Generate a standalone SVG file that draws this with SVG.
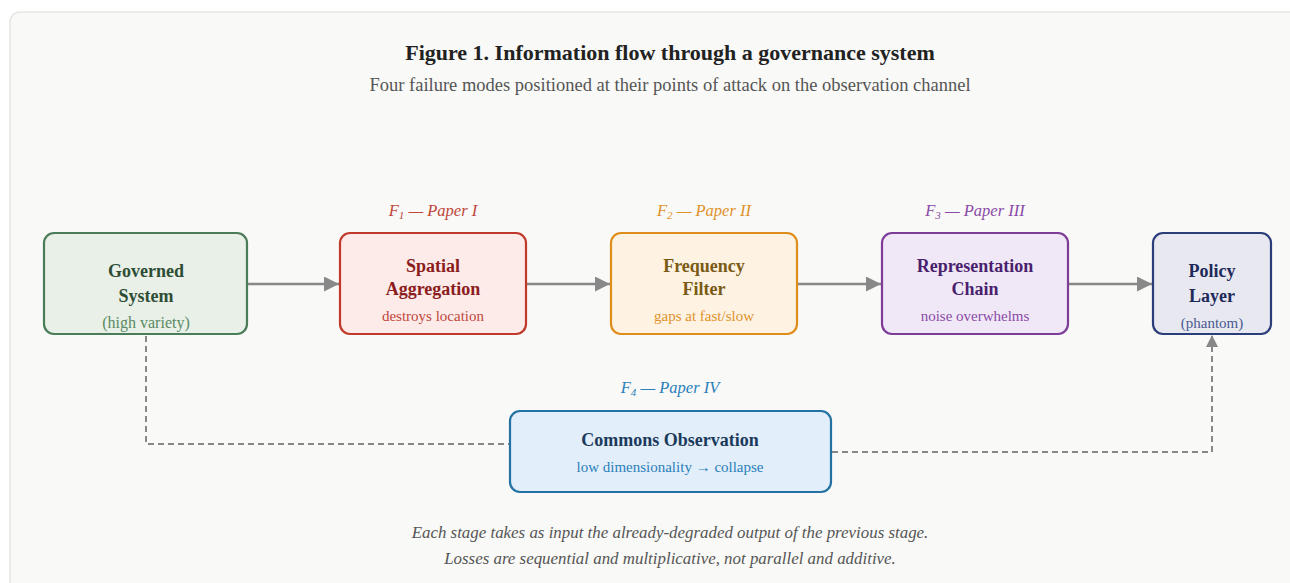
<svg xmlns="http://www.w3.org/2000/svg" width="1290" height="583" viewBox="0 0 1290 583">
<defs>
<style>
.t{font-family:"Liberation Serif","Times New Roman",serif;text-anchor:middle}
.h{font-weight:bold;font-size:18px}
.s{font-size:15px}
.f{font-style:italic;font-size:16.5px}
.ft{font-style:italic;font-size:16.9px}
.box{stroke-width:2.2}
.flow{fill:none;stroke:#888;stroke-width:2.5}
.dash{fill:none;stroke:#888;stroke-width:2;stroke-dasharray:6,4}
</style>
<marker id="ah" viewBox="0 0 10 10" refX="10" refY="5" markerWidth="6.5" markerHeight="6" markerUnits="strokeWidth" orient="auto">
<path d="M0,0L10,5L0,10z" fill="#888"/>
</marker>
<marker id="ah2" viewBox="0 0 10 10" refX="10" refY="5" markerWidth="6.5" markerHeight="6" markerUnits="strokeWidth" orient="auto">
<path d="M0,0L10,5L0,10z" fill="#888"/>
</marker>
</defs>
<rect x="10" y="12" width="1300" height="600" rx="10" fill="#f9f9f7" stroke="#e6e6e4" stroke-width="1.5"/>
<text class="t" x="670" y="60" font-size="22" font-weight="bold" fill="#222">Figure 1. Information flow through a governance system</text>
<text class="t" x="670" y="91" font-size="18.5" fill="#555">Four failure modes positioned at their points of attack on the observation channel</text>

<g id="connectors">
<line class="flow" x1="248" y1="284" x2="339" y2="284" marker-end="url(#ah)"/>
<line class="flow" x1="527" y1="284" x2="610" y2="284" marker-end="url(#ah)"/>
<line class="flow" x1="798" y1="284" x2="881" y2="284" marker-end="url(#ah)"/>
<line class="flow" x1="1069" y1="284" x2="1152" y2="284" marker-end="url(#ah)"/>
<polyline class="dash" points="146,336 146,444 510,444"/>
<polyline class="dash" points="832,452 1212,452 1212,335" marker-end="url(#ah2)"/>
</g>

<g id="governed">
<rect class="box" x="44" y="233" width="203" height="101" rx="10" fill="#e8f0e7" stroke="#4a7c59"/>
<text class="t h" x="146" y="277" fill="#2e4d36">Governed</text>
<text class="t h" x="146" y="302" fill="#2e4d36">System</text>
<text class="t" x="146" y="328" fill="#5a8a64" style="font-size:16px">(high variety)</text>
</g>

<g id="spatial">
<text class="t f" x="433" y="216" fill="#c0463a"><tspan>F</tspan><tspan font-size="11" dy="3">1</tspan><tspan dy="-3"> — Paper I</tspan></text>
<rect class="box" x="340" y="233" width="186" height="101" rx="10" fill="#fdebea" stroke="#c0392b"/>
<text class="t h" x="433" y="272" fill="#8b1c1c">Spatial</text>
<text class="t h" x="433" y="295" fill="#8b1c1c">Aggregation</text>
<text class="t s" x="433" y="321" fill="#c0463a">destroys location</text>
</g>

<g id="frequency">
<text class="t f" x="704" y="216" fill="#e0922a"><tspan>F</tspan><tspan font-size="11" dy="3">2</tspan><tspan dy="-3"> — Paper II</tspan></text>
<rect class="box" x="611" y="233" width="186" height="101" rx="10" fill="#fef2e3" stroke="#e08e1b"/>
<text class="t h" x="704" y="272" fill="#7a5a14">Frequency</text>
<text class="t h" x="704" y="295" fill="#7a5a14">Filter</text>
<text class="t s" x="704" y="321" fill="#e0922a">gaps at fast/slow</text>
</g>

<g id="representation">
<text class="t f" x="975" y="216" fill="#8a4aa8"><tspan>F</tspan><tspan font-size="11" dy="3">3</tspan><tspan dy="-3"> — Paper III</tspan></text>
<rect class="box" x="882" y="233" width="186" height="101" rx="10" fill="#f0e8f6" stroke="#7d3c98"/>
<text class="t h" x="975" y="272" fill="#4a1f6e">Representation</text>
<text class="t h" x="975" y="295" fill="#4a1f6e">Chain</text>
<text class="t s" x="975" y="321" fill="#8a4aa8">noise overwhelms</text>
</g>

<g id="policy">
<rect class="box" x="1153" y="233" width="118" height="101" rx="10" fill="#e8e8f1" stroke="#2c3e7a"/>
<text class="t h" x="1212" y="277" fill="#1e2a5a">Policy</text>
<text class="t h" x="1212" y="302" fill="#1e2a5a">Layer</text>
<text class="t s" x="1212" y="328" fill="#4a5a90">(phantom)</text>
</g>

<g id="commons">
<text class="t f" x="670" y="393" fill="#2a80b9"><tspan>F</tspan><tspan font-size="11" dy="3">4</tspan><tspan dy="-3"> — Paper IV</tspan></text>
<rect class="box" x="510" y="411" width="321" height="81" rx="10" fill="#e2eefa" stroke="#2471a3"/>
<text class="t h" x="670" y="446" fill="#1b3a5c">Commons Observation</text>
<text class="t s" x="670" y="472" fill="#2a80b9">low dimensionality → collapse</text>
</g>

<text class="t ft" x="670" y="538" fill="#555">Each stage takes as input the already-degraded output of the previous stage.</text>
<text class="t ft" x="670" y="564" fill="#555">Losses are sequential and multiplicative, not parallel and additive.</text>
</svg>
